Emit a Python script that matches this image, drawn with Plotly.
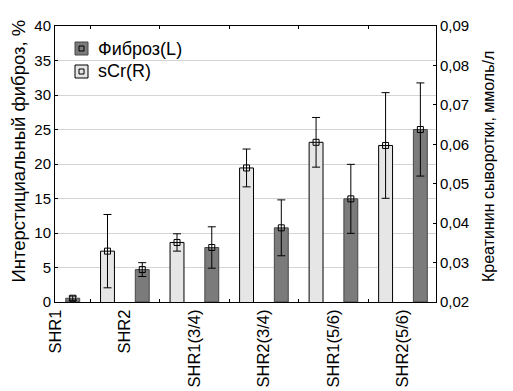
import plotly.graph_objects as go

categories = ["SHR1", "SHR2", "SHR1(3/4)", "SHR2(3/4)", "SHR1(5/6)", "SHR2(5/6)"]
fibrosis = [0.55, 4.7, 7.9, 10.75, 14.95, 25.0]
fibrosis_err = [0.3, 1.0, 3.0, 4.05, 5.0, 6.75]
scr = [None, 0.0329, 0.0351, 0.0540, 0.0605, 0.0597]
scr_err = [None, 0.0093, 0.0022, 0.0048, 0.0063, 0.0134]
left_ticks = [0, 5, 10, 15, 20, 25, 30, 35, 40]
right_ticks = [0.02, 0.03, 0.04, 0.05, 0.06, 0.07, 0.08, 0.09]
series_names = ["Фиброз(L)", "sCr(R)"]

pos = list(range(1, len(categories) + 1))
x_fib = [p + 0.25 for p in pos]
x_scr = [p - 0.25 for p in pos]

FONT = "Liberation Sans, Arial, sans-serif"
DARK = "#7b7b7b"
DARK_EDGE = "#474747"
LIGHT = "#e6e6e6"
LIGHT_EDGE = "#000000"

W, H = 513, 391
ML, MR, MT, MB = 55, 77, 26, 89
PW, PH = W - ML - MR, H - MT - MB

fig = go.Figure()
fig.add_trace(go.Bar(x=x_fib, y=fibrosis, width=0.2, name=series_names[0], showlegend=False,
                     marker=dict(color=DARK, line=dict(color=DARK_EDGE, width=1)),
                     yaxis="y"))
fig.add_trace(go.Bar(x=x_scr, y=scr, width=0.2, name=series_names[1], showlegend=False,
                     marker=dict(color=LIGHT, line=dict(color=LIGHT_EDGE, width=1)),
                     yaxis="y2"))
fig.add_trace(go.Scatter(x=x_fib, y=fibrosis, mode="markers", showlegend=False,
                         marker=dict(symbol="square-open", size=6, color="#000000", line=dict(width=1)),
                         error_y=dict(type="data", array=fibrosis_err, color="#000000", thickness=1, width=4),
                         yaxis="y"))
fig.add_trace(go.Scatter(x=x_scr, y=scr, mode="markers", showlegend=False,
                         marker=dict(symbol="square-open", size=6, color="#000000", line=dict(width=1)),
                         error_y=dict(type="data", array=scr_err, color="#000000", thickness=1, width=4),
                         yaxis="y2"))

def px(xp):
    return (xp - ML) / PW

def py(yp):
    return (H - MB - yp) / PH

shapes = []
annotations = []
legend_items = [(series_names[0], DARK, DARK_EDGE, 48.5), (series_names[1], LIGHT, "#000000", 71.5)]
for name, fill, edge, yc in legend_items:
    shapes.append(dict(type="rect", xref="paper", yref="paper",
                       x0=px(75), x1=px(88), y0=py(yc + 6.5), y1=py(yc - 6.5),
                       fillcolor=fill, line=dict(color=edge, width=1)))
    shapes.append(dict(type="rect", xref="paper", yref="paper",
                       x0=px(79), x1=px(84), y0=py(yc + 2.5), y1=py(yc - 2.5),
                       fillcolor=fill, line=dict(color="#000000", width=1)))
    annotations.append(dict(text=name, xref="paper", yref="paper", x=px(96), y=py(yc),
                            xanchor="left", yanchor="middle", showarrow=False,
                            font=dict(size=18, family=FONT, color="#000000")))

annotations.append(dict(text="Интерстициальный фиброз, %", xref="paper", yref="paper",
                        x=px(17.5), y=py(151), xanchor="center", yanchor="middle",
                        textangle=-90, showarrow=False,
                        font=dict(size=18.5, family=FONT, color="#000000")))
annotations.append(dict(text="Креатинин сыворотки, ммоль/л", xref="paper", yref="paper",
                        x=px(488), y=py(167), xanchor="center", yanchor="middle",
                        textangle=-90, showarrow=False,
                        font=dict(size=16, family=FONT, color="#000000")))

fig.update_layout(
    width=W, height=H, autosize=False,
    margin=dict(l=ML, r=MR, t=MT, b=MB),
    paper_bgcolor="white", plot_bgcolor="white",
    font=dict(family=FONT, size=13, color="#000000"),
    separators=", ",
    barmode="overlay",
    showlegend=False,
    shapes=shapes,
    annotations=annotations,
    xaxis=dict(range=[0.995, 6.475], tickvals=pos, ticktext=categories, tickangle=-90,
               showgrid=False, zeroline=False, showline=True, linecolor="#000000", linewidth=1,
               mirror="ticks", ticks="", ticklen=0, automargin=False,
               minor=dict(tick0=0.5, dtick=1, ticks="inside", ticklen=3, tickcolor="#000000", showgrid=False),
               tickfont=dict(size=16.5)),
    yaxis=dict(range=[0, 40], tickvals=left_ticks, showgrid=True, gridcolor="#d4d4d4",
               zeroline=False, showline=True, linecolor="#000000", linewidth=1, mirror=True,
               ticks="inside", ticklen=3, tickcolor="#000000", tickfont=dict(size=15),
               automargin=False),
    yaxis2=dict(range=[0.02, 0.09], tickvals=right_ticks, tickformat=".2f", overlaying="y",
                side="right", showgrid=False, zeroline=False, showline=True, linecolor="#000000",
                linewidth=1, ticks="inside", ticklen=3, tickcolor="#000000", tickfont=dict(size=15),
                automargin=False),
)

fig.write_html("out.html", config={"displayModeBar": False},
               post_script="document.body.style.margin='0';")
